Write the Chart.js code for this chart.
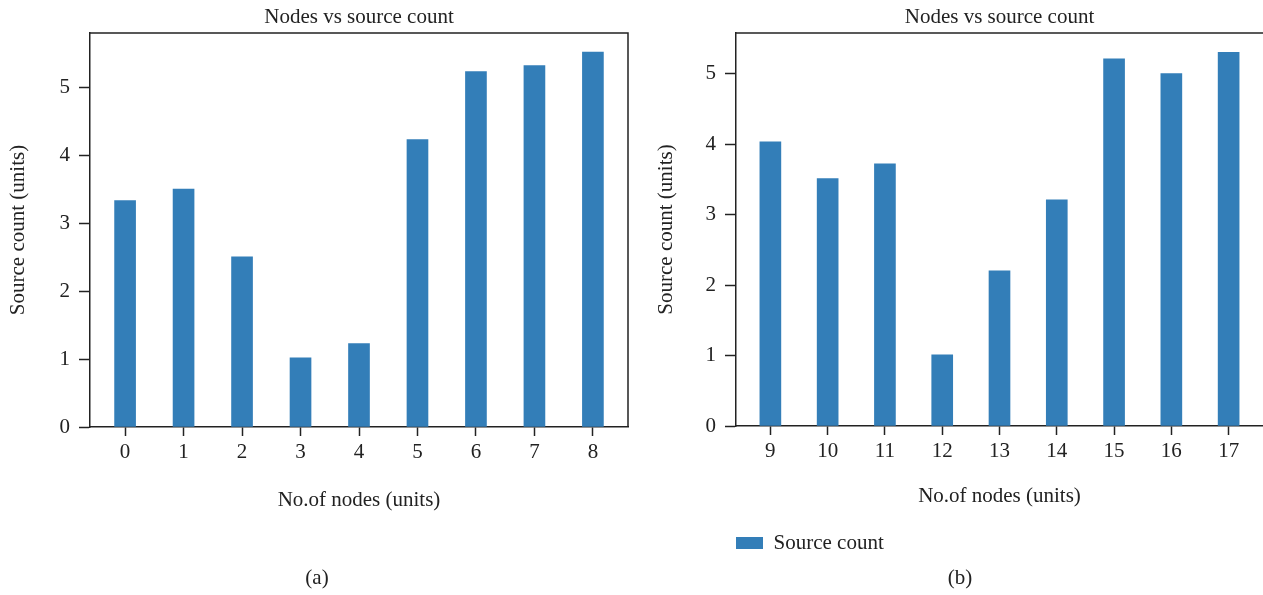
<!DOCTYPE html>
<html>
<head>
<meta charset="utf-8">
<script src="https://cdn.jsdelivr.net/npm/chart.js@4.4.1/dist/chart.umd.min.js"></script>
<style>
  body { margin: 0; background: #fff; }
  #wrap { position: relative; width: 1263px; height: 595px; overflow: hidden; }
  canvas { position: absolute; top: 0; }
  .cap { position: absolute; top: 565px; width: 60px; text-align: center;
         font: 21px "Liberation Serif", serif; color: #222; line-height: 25px; }
</style>
</head>
<body>
<div id="wrap">
  <canvas id="chartA" width="640" height="595" style="left:0"></canvas>
  <canvas id="chartB" width="623" height="595" style="left:640px"></canvas>
  <div class="cap" style="left:287px">(a)</div>
  <div class="cap" style="left:930px">(b)</div>
</div>
<script>
// data
const nodesA = [0, 1, 2, 3, 4, 5, 6, 7, 8];
const sourceA = [3.34, 3.51, 2.51, 1.02, 1.23, 4.24, 5.24, 5.33, 5.53];
const nodesB = [9, 10, 11, 12, 13, 14, 15, 16, 17];
const sourceB = [4.03, 3.51, 3.72, 1.01, 2.20, 3.21, 5.21, 5.00, 5.30];

const FONT = "'Liberation Serif', 'Times New Roman', serif";
const barColor = '#337eb8';
const ink = '#222';

// draws the top (and optionally right) edge of the plot box
const framePlugin = {
    id: 'frame',
    afterDraw(chart, args, opts) {
        const a = chart.chartArea;
        const ctx = chart.ctx;
        ctx.save();
        ctx.strokeStyle = ink;
        ctx.lineWidth = 1.5;
        ctx.beginPath();
        ctx.moveTo(a.left, a.top);
        ctx.lineTo(a.right, a.top);
        if (opts.right) {
            ctx.lineTo(a.right, a.bottom);
        }
        ctx.stroke();
        ctx.restore();
    }
};

function makeChart(id, nodes, values, cfg) {
    const points = nodes.map((n, i) => ({ x: n, y: values[i] }));
    return new Chart(document.getElementById(id), {
        type: 'bar',
        data: {
            datasets: [{
                label: 'Source count',
                data: points,
                backgroundColor: barColor,
                borderWidth: 0,
                barThickness: 21
            }]
        },
        options: {
            responsive: false,
            animation: false,
            layout: { padding: cfg.padding },
            plugins: {
                frame: { right: cfg.rightEdge },
                title: {
                    display: true,
                    text: 'Nodes vs source count',
                    fullSize: false,
                    color: ink,
                    font: { family: FONT, size: 21, weight: 'normal', lineHeight: 1.2 },
                    padding: { top: 4.4, bottom: 3.4 }
                },
                legend: {
                    display: cfg.legend,
                    position: 'bottom',
                    align: 'start',
                    fullSize: false,
                    labels: {
                        boxWidth: 27,
                        boxHeight: 12,
                        padding: 0,
                        color: ink,
                        font: { family: FONT, size: 21 }
                    }
                },
                tooltip: { enabled: false }
            },
            scales: {
                x: {
                    type: 'linear',
                    offset: false,
                    min: cfg.xMin,
                    max: cfg.xMax,
                    afterFit(scale) { scale.height = cfg.xHeight; },
                    ticks: {
                        stepSize: 1,
                        includeBounds: false,
                        color: ink,
                        padding: 4,
                        font: { family: FONT, size: 21, lineHeight: 1.2 }
                    },
                    grid: {
                        offset: false,
                        drawOnChartArea: false,
                        tickLength: 9,
                        tickColor: ink,
                        tickWidth: 1.5
                    },
                    border: { color: ink, width: 1.5 },
                    title: {
                        display: true,
                        text: 'No.of nodes (units)',
                        color: ink,
                        font: { family: FONT, size: 21, lineHeight: 1.2 },
                        padding: { top: 0, bottom: cfg.xTitlePad }
                    }
                },
                y: {
                    min: 0,
                    max: cfg.yMax,
                    afterFit(scale) { scale.width = cfg.yWidth; },
                    ticks: {
                        stepSize: 1,
                        includeBounds: false,
                        color: ink,
                        padding: 9,
                        font: { family: FONT, size: 21, lineHeight: 1.2 }
                    },
                    grid: {
                        drawOnChartArea: false,
                        tickLength: 11,
                        tickColor: ink,
                        tickWidth: 1.5
                    },
                    border: { color: ink, width: 1.5 },
                    title: {
                        display: true,
                        text: 'Source count (units)',
                        color: ink,
                        font: { family: FONT, size: 21, lineHeight: 1.2 },
                        padding: { top: cfg.yTitlePad, bottom: 0 }
                    }
                }
            }
        },
        plugins: [framePlugin]
    });
}

makeChart('chartA', nodesA, sourceA, {
    padding: { left: 0, top: 0, right: 12, bottom: 82.4 },
    rightEdge: true,
    legend: false,
    xMin: -0.6, xMax: 8.6,
    yMax: 5.81,
    xHeight: 85.6,
    xTitlePad: 0,
    yWidth: 90,
    yTitlePad: 5.4
});

makeChart('chartB', nodesB, sourceB, {
    padding: { left: 0, top: 0, right: 0, bottom: 31.5 },
    rightEdge: false,
    legend: true,
    xMin: 8.4, xMax: 17.6,
    yMax: 5.575,
    xHeight: 106.5,
    xTitlePad: 23.9,
    yWidth: 96,
    yTitlePad: 13.4
});
</script>
</body>
</html>
